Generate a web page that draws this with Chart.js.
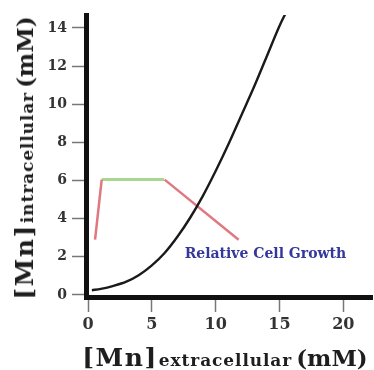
<!DOCTYPE html>
<html>
<head>
<meta charset="utf-8">
<script src="https://cdn.jsdelivr.net/npm/chart.js@4"></script>
<style>
  body { margin: 0; background: #fff; }
  #wrap { position: relative; width: 374px; height: 370px; }
  .axt {
    position: absolute;
    white-space: nowrap;
    font: bold 23px "DejaVu Serif", serif;
    line-height: 23px;
    color: #1e1e1e;
  }
  .axt .mn { font-size: 25px; letter-spacing: 1.5px; }
  .axt .sub { font-size: 17px; letter-spacing: 0.9px; margin: 0 4px 0 1px; }
  #xt { left: 225px; top: 359px; transform: translate(-50%, -50%); }
  #yt { left: 26px; top: 158px; transform: translate(-50%, -50%) rotate(-90deg); }
</style>
</head>
<body>
<div id="wrap">
  <canvas id="chart"></canvas>
  <div id="xt" class="axt"><span class="mn">[Mn]</span><span class="sub">extracellular</span>(mM)</div>
  <div id="yt" class="axt"><span class="mn">[Mn]</span><span class="sub">intracellular</span>(mM)</div>
</div>
<script>
// intracellular vs extracellular Mn (black curve)
var curveX = [0.3, 1, 2, 3, 4, 5, 6, 7, 8, 9, 10, 11, 12, 13, 14, 15, 15.5];
var curveY = [0.25, 0.32, 0.48, 0.7, 1.05, 1.55, 2.2, 3.05, 4.05, 5.2, 6.5, 7.9, 9.4, 10.9, 12.5, 14.1, 14.8];

// relative cell growth sketch (red rise, green plateau, red fall)
var riseX = [0.55, 1.07];
var riseY = [2.9, 6.05];
var plateauX = [1.07, 5.95];
var plateauY = [6.05, 6.05];
var fallX = [6.0, 11.8];
var fallY = [6.05, 2.9];

var xTicks = [0, 5, 10, 15, 20];
var yTicks = [0, 2, 4, 6, 8, 10, 12, 14];

var growthLabel = "Relative Cell Growth";

function pts(xs, ys) {
    return xs.map(function (x, i) {
        return { x: x, y: ys[i] };
    });
}

var labelPlugin = {
    id: "growthLabel",
    afterDatasetsDraw: function (chart) {
        var ctx = chart.ctx;
        var px = chart.scales.x.getPixelForValue(13.9);
        var py = chart.scales.y.getPixelForValue(1.94);
        ctx.save();
        ctx.font = "bold 14px 'DejaVu Serif', serif";
        ctx.fillStyle = "#34389a";
        ctx.textAlign = "center";
        ctx.textBaseline = "alphabetic";
        ctx.fillText(growthLabel, px, py);
        ctx.restore();
    },
};

var tickFont = { family: "'DejaVu Serif', serif", weight: "bold" };

new Chart(document.getElementById("chart"), {
    type: "line",
    data: {
        datasets: [
            {
                data: pts(curveX, curveY),
                borderColor: "#1a1a1a",
                borderWidth: 2.4,
                cubicInterpolationMode: "monotone",
                pointRadius: 0,
            },
            {
                data: pts(riseX, riseY),
                borderColor: "#e07880",
                borderWidth: 2.5,
                pointRadius: 0,
            },
            {
                data: pts(plateauX, plateauY),
                borderColor: "#a8d890",
                borderWidth: 3,
                pointRadius: 0,
            },
            {
                data: pts(fallX, fallY),
                borderColor: "#e07880",
                borderWidth: 2.5,
                pointRadius: 0,
            },
        ],
    },
    options: {
        responsive: true,
        maintainAspectRatio: false,
        animation: false,
        layout: { padding: { top: 15, right: 2, left: 0, bottom: 0 } },
        plugins: {
            legend: { display: false },
            tooltip: { enabled: false },
        },
        scales: {
            x: {
                type: "linear",
                min: -0.16,
                max: 22.25,
                afterBuildTicks: function (s) {
                    s.ticks = xTicks.map(function (v) { return { value: v }; });
                },
                afterFit: function (s) { s.height = 73; },
                border: { color: "#111", width: 5 },
                grid: {
                    drawOnChartArea: false,
                    tickLength: 15,
                    tickColor: "#777",
                    tickWidth: 1.5,
                },
                ticks: {
                    autoSkip: false,
                    maxRotation: 0,
                    padding: 3,
                    color: "#333",
                    font: Object.assign({ size: 16 }, tickFont),
                },
            },
            y: {
                type: "linear",
                min: -0.105,
                max: 14.68,
                afterBuildTicks: function (s) {
                    s.ticks = yTicks.map(function (v) { return { value: v }; });
                },
                afterFit: function (s) { s.width = 86; },
                border: { color: "#111", width: 5 },
                grid: {
                    drawOnChartArea: false,
                    tickLength: 14,
                    tickColor: "#777",
                    tickWidth: 1.5,
                },
                ticks: {
                    autoSkip: false,
                    padding: 5,
                    color: "#333",
                    font: Object.assign({ size: 14 }, tickFont),
                },
            },
        },
    },
    plugins: [labelPlugin],
});
</script>
</body>
</html>
